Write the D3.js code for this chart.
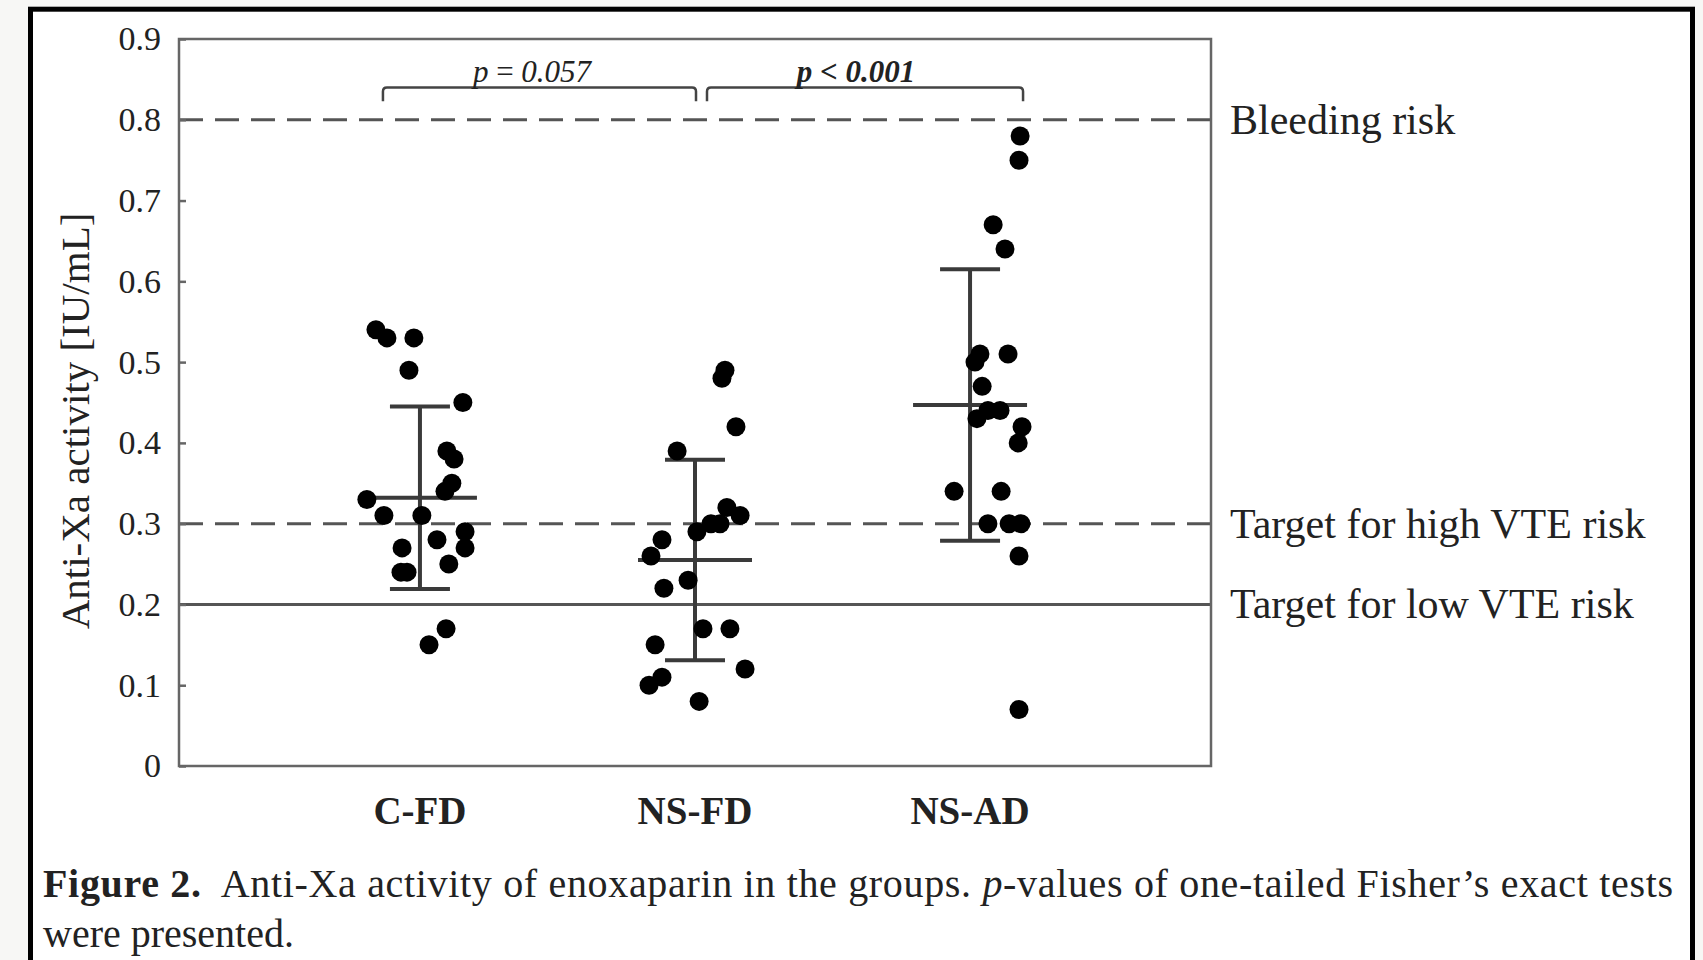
<!DOCTYPE html>
<html>
<head>
<meta charset="utf-8">
<script src="https://cdn.jsdelivr.net/npm/d3@7"></script>
<style>
  body { margin: 0; background: #f7f7f5; }
  svg { display: block; }
  text { font-family: "Liberation Serif", "Times New Roman", serif; fill: #222; }
</style>
</head>
<body>
<div id="chart"></div>
<script>
const categories = ["C-FD", "NS-FD", "NS-AD"];

// anti-Xa activity per patient, with the horizontal jitter (in category steps)
const cfdValues = [0.54, 0.53, 0.53, 0.49, 0.45, 0.39, 0.38, 0.35, 0.34, 0.33, 0.31, 0.31, 0.29, 0.28, 0.27, 0.27, 0.25, 0.24, 0.24, 0.17, 0.15];
const cfdJitter = [-0.160, -0.120, -0.022, -0.040, 0.156, 0.098, 0.124, 0.116, 0.091, -0.193, -0.131, 0.007, 0.164, 0.062, 0.164, -0.065, 0.105, -0.069, -0.047, 0.095, 0.033];

const nsfdValues = [0.49, 0.48, 0.42, 0.39, 0.32, 0.31, 0.30, 0.30, 0.29, 0.28, 0.26, 0.23, 0.22, 0.17, 0.17, 0.15, 0.12, 0.11, 0.10, 0.08];
const nsfdJitter = [0.109, 0.098, 0.149, -0.065, 0.116, 0.164, 0.091, 0.058, 0.007, -0.120, -0.160, -0.025, -0.113, 0.029, 0.127, -0.145, 0.182, -0.120, -0.167, 0.015];

const nsadValues = [0.78, 0.75, 0.67, 0.64, 0.51, 0.50, 0.51, 0.47, 0.44, 0.44, 0.43, 0.42, 0.40, 0.34, 0.34, 0.30, 0.30, 0.30, 0.26, 0.07];
const nsadJitter = [0.182, 0.178, 0.084, 0.127, 0.036, 0.018, 0.138, 0.044, 0.109, 0.065, 0.025, 0.189, 0.175, -0.058, 0.113, 0.065, 0.142, 0.185, 0.178, 0.178];

const groupMeans = [0.332, 0.255, 0.447];
const groupSDs = [0.113, 0.124, 0.168];

const yTicks = [0, 0.1, 0.2, 0.3, 0.4, 0.5, 0.6, 0.7, 0.8, 0.9];

const refValues = [0.8, 0.3, 0.2];
const refLabels = ["Bleeding risk", "Target for high VTE risk", "Target for low VTE risk"];

const pPairs = [["C-FD", "NS-FD"], ["NS-FD", "NS-AD"]];
const pLabels = ["0.057", "0.001"];
const pSigns = ["=", "<"];

const values = [cfdValues, nsfdValues, nsadValues];
const jitters = [cfdJitter, nsfdJitter, nsadJitter];

const width = 1703;
const height = 960;
const plot = { left: 179, right: 1211, top: 39, bottom: 766 };

const svg = d3.select("#chart").append("svg")
    .attr("width", width)
    .attr("height", height);

// page frame
svg.append("rect")
    .attr("x", 30.5).attr("y", 9.2)
    .attr("width", 1662).attr("height", 1000)
    .attr("fill", "#fff")
    .attr("stroke", "#000")
    .attr("stroke-width", 5);

const x = d3.scalePoint()
    .domain(categories)
    .range([plot.left, plot.right])
    .padding(0.876);

const y = d3.scaleLinear()
    .domain([0, 0.9])
    .range([plot.bottom, plot.top]);

// reference lines
svg.append("g")
    .selectAll("line")
    .data(refValues)
    .enter()
    .append("line")
    .attr("x1", plot.left).attr("x2", plot.right)
    .attr("y1", d => y(d)).attr("y2", d => y(d))
    .attr("stroke", "#555")
    .attr("stroke-width", 3)
    .attr("stroke-dasharray", (d, i) => i < 2 ? "24,12" : null);

svg.append("g")
    .selectAll("text")
    .data(refValues)
    .enter()
    .append("text")
    .attr("x", plot.right + 19)
    .attr("y", d => y(d) + 14)
    .style("font-size", "42px")
    .text((d, i) => refLabels[i]);

// plot box
svg.append("rect")
    .attr("x", plot.left).attr("y", plot.top)
    .attr("width", plot.right - plot.left)
    .attr("height", plot.bottom - plot.top)
    .attr("fill", "none")
    .attr("stroke", "#666")
    .attr("stroke-width", 2.5);

const yAxis = svg.append("g")
    .attr("transform", "translate(" + plot.left + ",0)")
    .call(d3.axisLeft(y)
        .tickValues(yTicks)
        .tickSize(-7)
        .tickPadding(18)
        .tickFormat(d => d === 0 ? "0" : d3.format(".1f")(d)));
yAxis.select(".domain").remove();
yAxis.selectAll(".tick line").attr("stroke", "#666").attr("stroke-width", 2.5);
yAxis.selectAll(".tick text")
    .style("font-family", '"Liberation Serif", serif')
    .style("font-size", "34px")
    .attr("fill", "#333");

svg.append("text")
    .attr("transform", "rotate(-90)")
    .attr("x", -421)
    .attr("y", 89)
    .attr("text-anchor", "middle")
    .style("font-size", "41px")
    .attr("fill", "#333")
    .text("Anti-Xa activity [IU/mL]");

// category labels
svg.append("g")
    .selectAll("text")
    .data(categories)
    .enter()
    .append("text")
    .attr("x", d => x(d))
    .attr("y", 824)
    .attr("text-anchor", "middle")
    .style("font-size", "39px")
    .style("font-weight", "bold")
    .text(d => d);

// mean and SD bars
const bars = svg.append("g")
    .attr("stroke", "#3a3a3a")
    .attr("stroke-width", 4);

categories.forEach((cat, i) => {
    const cx = x(cat);
    const m = groupMeans[i];
    const s = groupSDs[i];
    bars.append("line")
        .attr("x1", cx).attr("x2", cx)
        .attr("y1", y(m + s)).attr("y2", y(m - s));
    bars.append("line")
        .attr("x1", cx - 57).attr("x2", cx + 57)
        .attr("y1", y(m)).attr("y2", y(m));
    [m + s, m - s].forEach(v => {
        bars.append("line")
            .attr("x1", cx - 30).attr("x2", cx + 30)
            .attr("y1", y(v)).attr("y2", y(v));
    });
});

// individual points
const points = [];
categories.forEach((cat, i) => {
    values[i].forEach((v, j) => points.push({ cat: cat, value: v, jitter: jitters[i][j] }));
});

svg.append("g")
    .selectAll("circle")
    .data(points)
    .enter()
    .append("circle")
    .attr("cx", d => x(d.cat) + d.jitter * x.step())
    .attr("cy", d => y(d.value))
    .attr("r", 9.5)
    .attr("fill", "#000");

// significance brackets
const bracketOffsets = [[-37, 1], [12, 53]];
const bTop = y(0.84);
const bBottom = y(0.823);

pPairs.forEach((pair, i) => {
    const x1 = x(pair[0]) + bracketOffsets[i][0];
    const x2 = x(pair[1]) + bracketOffsets[i][1];
    const r = 4;
    svg.append("path")
        .attr("d", `M${x1},${bBottom} L${x1},${bTop + r} Q${x1},${bTop} ${x1 + r},${bTop}
                    L${x2 - r},${bTop} Q${x2},${bTop} ${x2},${bTop + r} L${x2},${bBottom}`)
        .attr("fill", "none")
        .attr("stroke", "#444")
        .attr("stroke-width", 2.5);

    const t = svg.append("text")
        .attr("x", i === 0 ? 532 : 856)
        .attr("y", 82)
        .attr("text-anchor", "middle")
        .style("font-size", "31px")
        .style("font-style", "italic")
        .style("font-weight", i === 1 ? "bold" : "normal");
    t.append("tspan").text("p ");
    t.append("tspan").style("font-style", "normal").text(pSigns[i]);
    t.append("tspan").text(" " + pLabels[i]);
});

// caption
const cap1 = svg.append("text")
    .attr("x", 43)
    .attr("y", 897)
    .attr("textLength", 1630)
    .attr("lengthAdjust", "spacing")
    .style("font-size", "40px")
    .attr("fill", "#111");
cap1.append("tspan").style("font-weight", "bold").text("Figure 2.");
cap1.append("tspan").text("\u00a0 Anti-Xa activity of enoxaparin in the groups. ");
cap1.append("tspan").style("font-style", "italic").text("p");
cap1.append("tspan").text("-values of one-tailed Fisher\u2019s exact tests");

svg.append("text")
    .attr("x", 43)
    .attr("y", 947)
    .style("font-size", "40px")
    .attr("fill", "#111")
    .text("were presented.");
</script>
</body>
</html>
